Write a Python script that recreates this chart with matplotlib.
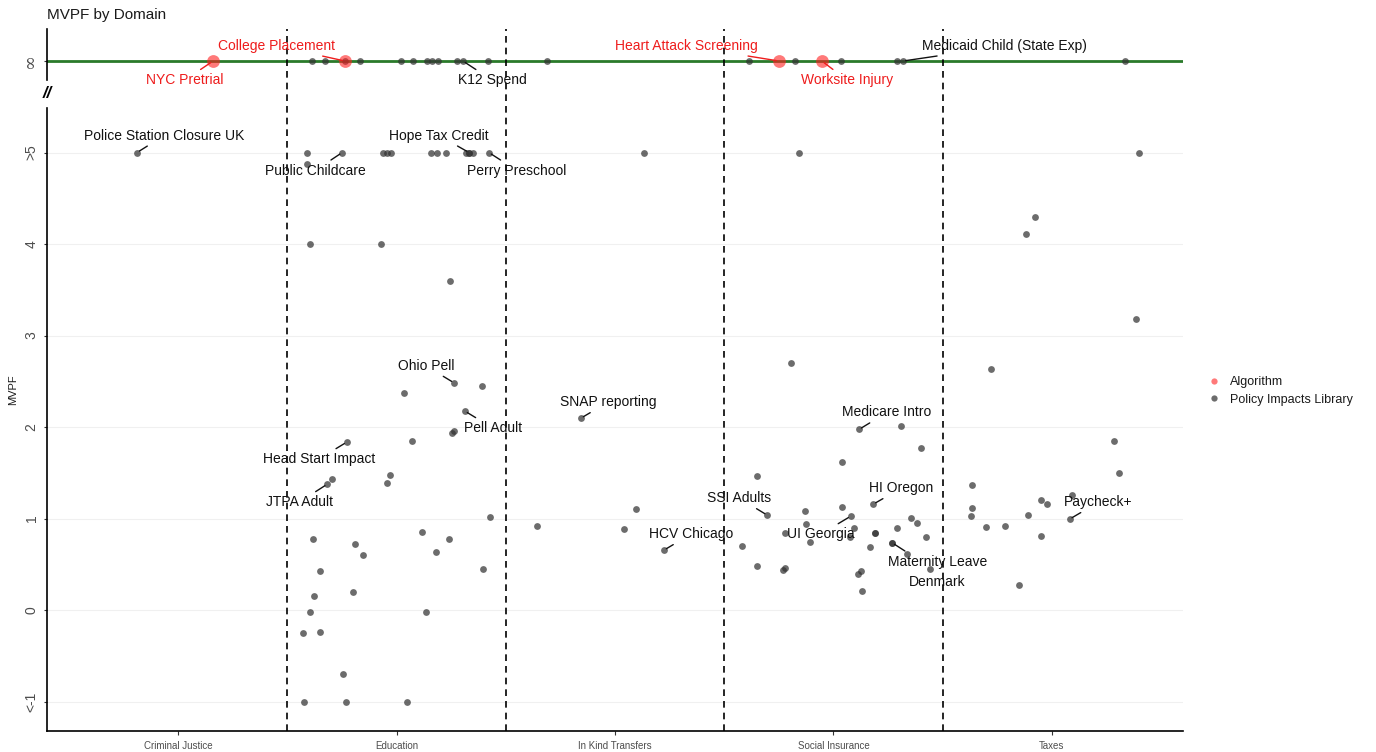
import numpy as np
import matplotlib
matplotlib.use("Agg")
import matplotlib.pyplot as plt
from matplotlib.lines import Line2D

matplotlib.rcParams.update({'font.family': ['Liberation Sans', 'DejaVu Sans']})

domains = ["Criminal Justice", "Education", "In Kind Transfers", "Social Insurance", "Taxes"]
y_ticks = [-1, 0, 1, 2, 3, 4, 5, 6]
y_ticklabels = ["<-1", "0", "1", "2", "3", "4", ">5", "\u221e"]
INF_ROW = 6  # infinite MVPFs get their own row above the break

# policy impacts library: jittered domain position and (capped) MVPF
lib_x = [1.613, 1.673, 1.764, 1.833, 2.021, 2.076, 2.140, 2.162, 2.19, 2.277, 2.304, 2.419,
         2.689, 3.613, 3.824, 4.034, 4.291, 4.318, 5.334,
         0.812, 1.590, 1.751, 1.938, 1.957, 1.975, 2.158, 2.185, 2.227, 2.318, 2.332, 2.332,
         2.350, 2.423, 3.133, 3.842, 5.398, 1.590,
         1.604, 1.929, 2.245, 2.263, 2.39, 2.034, 2.313, 2.263, 2.255, 1.772, 2.072, 1.703,
         1.683, 1.970, 1.955, 2.43, 1.618, 2.117, 2.242, 1.812, 1.848, 2.182, 1.648, 2.394,
         1.622, 1.802, 1.606, 2.135, 1.571, 1.651, 1.757, 1.578, 1.769, 2.049,
         2.641, 2.844, 3.096, 3.041, 3.224,
         3.58, 3.651, 3.697, 3.65, 3.77, 3.78, 3.779, 3.87, 3.873, 3.891, 4.04, 4.079, 4.094,
         4.074, 4.04, 4.117, 4.31, 4.40, 4.182, 4.19, 4.19, 4.292, 4.356, 4.382, 4.425, 4.269,
         4.269, 4.336, 4.166, 4.124, 4.113, 4.132, 4.444, 3.806,
         4.636, 4.632, 4.629, 4.70, 4.783, 4.891, 4.948, 4.977, 4.951, 5.093, 5.081, 4.849,
         4.719, 5.284, 5.307, 5.383, 4.881, 4.922]
lib_y = [np.inf] * 19 + [5] * 17 + [4.87,
         4.0, 4.0, 3.6, 2.484, 2.45, 2.37, 2.175, 1.96, 1.94, 1.836, 1.85, 1.428,
         1.377, 1.479, 1.39, 1.02, 0.773, 0.849, 0.773, 0.718, 0.598, 0.638, 0.426, 0.445,
         0.153, 0.197, -0.018, -0.018, -0.244, -0.233, -0.692, -1, -1, -1,
         0.918, 2.098, 1.104, 0.885, 0.656,
         0.703, 1.464, 1.038, 0.484, 0.437, 0.456, 0.838, 1.086, 0.947, 0.747, 1.129, 1.027, 0.9,
         0.80, 1.621, 1.975, 2.007, 1.767, 1.158, 0.838, 0.838, 0.893, 1.002, 0.958, 0.80, 0.736,
         0.736, 0.619, 0.692, 0.43, 0.393, 0.208, 0.448, 2.70,
         1.366, 1.118, 1.027, 0.91, 0.918, 1.038, 1.202, 1.155, 0.812, 1.257, 0.995, 0.27,
         2.64, 1.847, 1.494, 3.18, 4.11, 4.295]

# algorithm-sourced policies
alg_names = ["NYC Pretrial", "College Placement", "Heart Attack Screening", "Worksite Injury"]
alg_x = [1.16, 1.764, 3.751, 3.947]
alg_y = [np.inf, np.inf, np.inf, np.inf]

# labelled library policies: name, x, MVPF
lib_labels = [("K12 Spend", 2.304, np.inf),
              ("Medicaid Child (State Exp)", 4.318, np.inf),
              ("Police Station Closure UK", 0.812, 5),
              ("Public Childcare", 1.751, 5),
              ("Hope Tax Credit", 2.332, 5),
              ("Perry Preschool", 2.423, 5),
              ("Ohio Pell", 2.263, 2.484),
              ("Pell Adult", 2.313, 2.175),
              ("SNAP reporting", 2.844, 2.098),
              ("Head Start Impact", 1.772, 1.836),
              ("JTPA Adult", 1.683, 1.377),
              ("Medicare Intro", 4.117, 1.975),
              ("HI Oregon", 4.182, 1.158),
              ("SSI Adults", 3.697, 1.038),
              ("HCV Chicago", 3.224, 0.656),
              ("UI Georgia", 4.079, 1.027),
              ("Maternity Leave\nDenmark", 4.269, 0.736),
              ("Paycheck+", 5.081, 0.995)]

# label nudges in pixels (dx, dy)
nudge = {"NYC Pretrial": (-28, -19), "College Placement": (-68, 15),
         "Heart Attack Screening": (-93, 15), "Worksite Injury": (25, -19),
         "K12 Spend": (29, -19), "Medicaid Child (State Exp)": (102, 15),
         "Police Station Closure UK": (27, 17), "Public Childcare": (-27, -18),
         "Hope Tax Credit": (-30, 17), "Perry Preschool": (28, -18),
         "Ohio Pell": (-28, 17), "Pell Adult": (28, -17), "SNAP reporting": (27, 16),
         "Head Start Impact": (-28, -17), "JTPA Adult": (-28, -18),
         "Medicare Intro": (28, 17), "HI Oregon": (28, 16), "SSI Adults": (-28, 17),
         "HCV Chicago": (27, 16), "UI Georgia": (-30, -18),
         "Maternity Leave\nDenmark": (45, -29), "Paycheck+": (29, 17)}


def row(v):
    return INF_ROW if np.isinf(v) else v


fig = plt.figure(figsize=(13.76, 7.52), dpi=100)
ax = fig.add_axes([47 / 1376, 21 / 752, 1136 / 1376, 702 / 752])
ax.set_xlim(0.4, 5.6)
ax.set_ylim(-1.32, 6.35)

for t in y_ticks:
    ax.axhline(t, color="#f0f0f0", lw=0.8, zorder=0)
ax.axhline(INF_ROW, color="#2a7a2a", lw=2, zorder=1)
for b in [1.5, 2.5, 3.5, 4.5]:
    ax.axvline(b, color="black", lw=1.2, ls=(0, (4, 3)), zorder=1)

ax.scatter(lib_x, [row(v) for v in lib_y], s=24, color="#333333", alpha=0.72,
           linewidths=0, zorder=3)
ax.scatter(alg_x, [row(v) for v in alg_y], s=85, color="#ff2020", alpha=0.6,
           linewidths=0, zorder=4)

for name, x, v in zip(alg_names, alg_x, alg_y):
    ax.annotate(name, xy=(x, row(v)), xytext=nudge[name], textcoords="offset pixels",
                ha="center", va="center", fontsize=10, color="#ee1c1c", zorder=5,
                arrowprops=dict(arrowstyle="-", color="#ee1c1c", lw=1, shrinkA=1, shrinkB=2))
for name, x, v in lib_labels:
    ax.annotate(name, xy=(x, row(v)), xytext=nudge[name], textcoords="offset pixels",
                ha="center", va="center", fontsize=10, color="#111111", zorder=5,
                linespacing=1.6,
                arrowprops=dict(arrowstyle="-", color="#111111", lw=1, shrinkA=1, shrinkB=2))

# axes: bottom spine plus a broken left spine
for s in ["top", "right", "left"]:
    ax.spines[s].set_visible(False)
ax.spines["bottom"].set_linewidth(1.2)
ax.plot([0.4, 0.4], [-1.32, 5.49], color="black", lw=1.2, clip_on=False, zorder=6)
ax.plot([0.4, 0.4], [5.79, 6.35], color="black", lw=1.2, clip_on=False, zorder=6)
ax.text(0.4, 5.64, "//", ha="center", va="center", fontsize=12, fontweight="bold",
        style="italic", color="black")

ax.set_xticks(range(1, 6))
ax.set_xticklabels(domains, fontsize=7, color="#4d4d4d")
ax.set_yticks(y_ticks)
ax.set_yticklabels(y_ticklabels, fontsize=10, color="#4d4d4d", rotation=90, va="center")
inf_label = ax.get_yticklabels()[-1]
inf_label.set_fontfamily("DejaVu Serif")
inf_label.set_fontsize(13)
ax.tick_params(axis="x", length=3, width=0.8, color="#333333", pad=4)
ax.tick_params(axis="y", length=2, width=0.8, color="#333333", pad=4)
ax.yaxis.set_label_coords(-8 / 1136, 0.5, transform=None)
ax.set_ylabel("MVPF", fontsize=8, color="#1a1a1a")
ax.yaxis.label.set_position((0, 0.5))
ax.yaxis.set_label_coords(18 / 1376, 1 - 390 / 752, transform=fig.transFigure)

fig.text(47 / 1376, 1 - 15 / 752, "MVPF by Domain", fontsize=11, ha="left", va="center",
         color="#1a1a1a")

handles = [Line2D([], [], marker="o", ls="", color="#ff2020", alpha=0.6, markersize=4.5,
                  markeredgewidth=0),
           Line2D([], [], marker="o", ls="", color="#333333", alpha=0.72, markersize=4.5,
                  markeredgewidth=0)]
fig.legend(handles, ["Algorithm", "Policy Impacts Library"], loc="center left",
           bbox_to_anchor=(1196 / 1376, 1 - 391 / 752), frameon=False, fontsize=9,
           handlelength=1, handletextpad=0.8, labelspacing=0.45, labelcolor="#1a1a1a")

fig.savefig("out.png", dpi=100)
